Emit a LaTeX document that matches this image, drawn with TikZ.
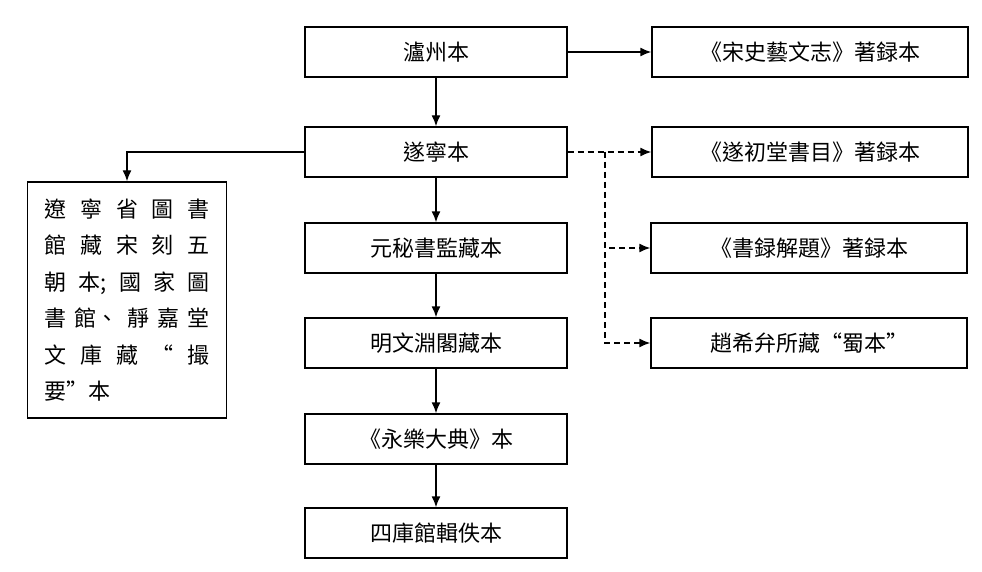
\documentclass[tikz,border=0pt]{standalone}
\usepackage{fontspec}
\setmainfont{Liberation Serif}
\newfontfamily\cjk{Noto Sans CJK TC}
\usetikzlibrary{positioning,arrows.meta}
\tikzset{
  box/.style={draw,line width=1.4pt,minimum width=262pt,minimum height=50pt,font=\cjk\fontsize{22}{26}\selectfont},
  rbox/.style={box,minimum width=316pt},
  arr/.style={-{Latex[length=11pt,width=9pt]},line width=1.4pt},
  darr/.style={arr,dash pattern=on 6pt off 4pt}
}
\newcommand{\spreadline}[1]{\makebox[165pt][s]{#1}}
\begin{document}
\begin{tikzpicture}[x=1pt,y=-1pt]
  \useasboundingbox (0,0) rectangle (982,572);
  \node[box] (luzhou) at (436,52) {瀘州本};
  \node[box] (suining) at (436,152) {遂寧本};
  \node[box] (yuan) at (436,248) {元秘書監藏本};
  \node[box] (ming) at (436,343) {明文淵閣藏本};
  \node[box] (yongle) at (436,439) {《永樂大典》本};
  \node[box] (siku) at (436,533) {四庫館輯佚本};
  \node[rbox] (songshi) at (810,52) {《宋史藝文志》著録本};
  \node[rbox] (suichu) at (810,152) {《遂初堂書目》著録本};
  \node[rbox] (jieti) at (809,248) {《書録解題》著録本};
  \node[rbox] (zhao) at (809,343) {趙希弁所藏“蜀本”};
  \node[draw,line width=1.4pt,minimum width=199pt,minimum height=236pt,align=left,
        font=\cjk\fontsize{22}{36.5}\selectfont] (liaoning) at (127,300)
    {\spreadline{遼\hfill 寧\hfill 省\hfill 圖\hfill 書}\\
     \spreadline{館\hfill 藏\hfill 宋\hfill 刻\hfill 五}\\
     \spreadline{朝\hfill 本;\hfill 國\hfill 家\hfill 圖}\\
     \spreadline{書\hfill 館、\hfill 靜\hfill 嘉\hfill 堂}\\
     \spreadline{文\hfill 庫\hfill 藏\hfill “\hfill 撮}\\
     \spreadline{要”本\hfill}};
  \coordinate (split) at (605,152);
  \draw[arr] (luzhou) -- (songshi);
  \draw[arr] (luzhou) -- (suining);
  \draw[arr] (suining) -- (yuan);
  \draw[arr] (yuan) -- (ming);
  \draw[arr] (ming) -- (yongle);
  \draw[arr] (yongle) -- (siku);
  \draw[arr] (suining.west) -| (liaoning.north);
  \draw[darr] (suining) -- (suichu);
  \draw[darr] (split) |- (jieti);
  \draw[darr] (split) |- (zhao);
\end{tikzpicture}
\end{document}
